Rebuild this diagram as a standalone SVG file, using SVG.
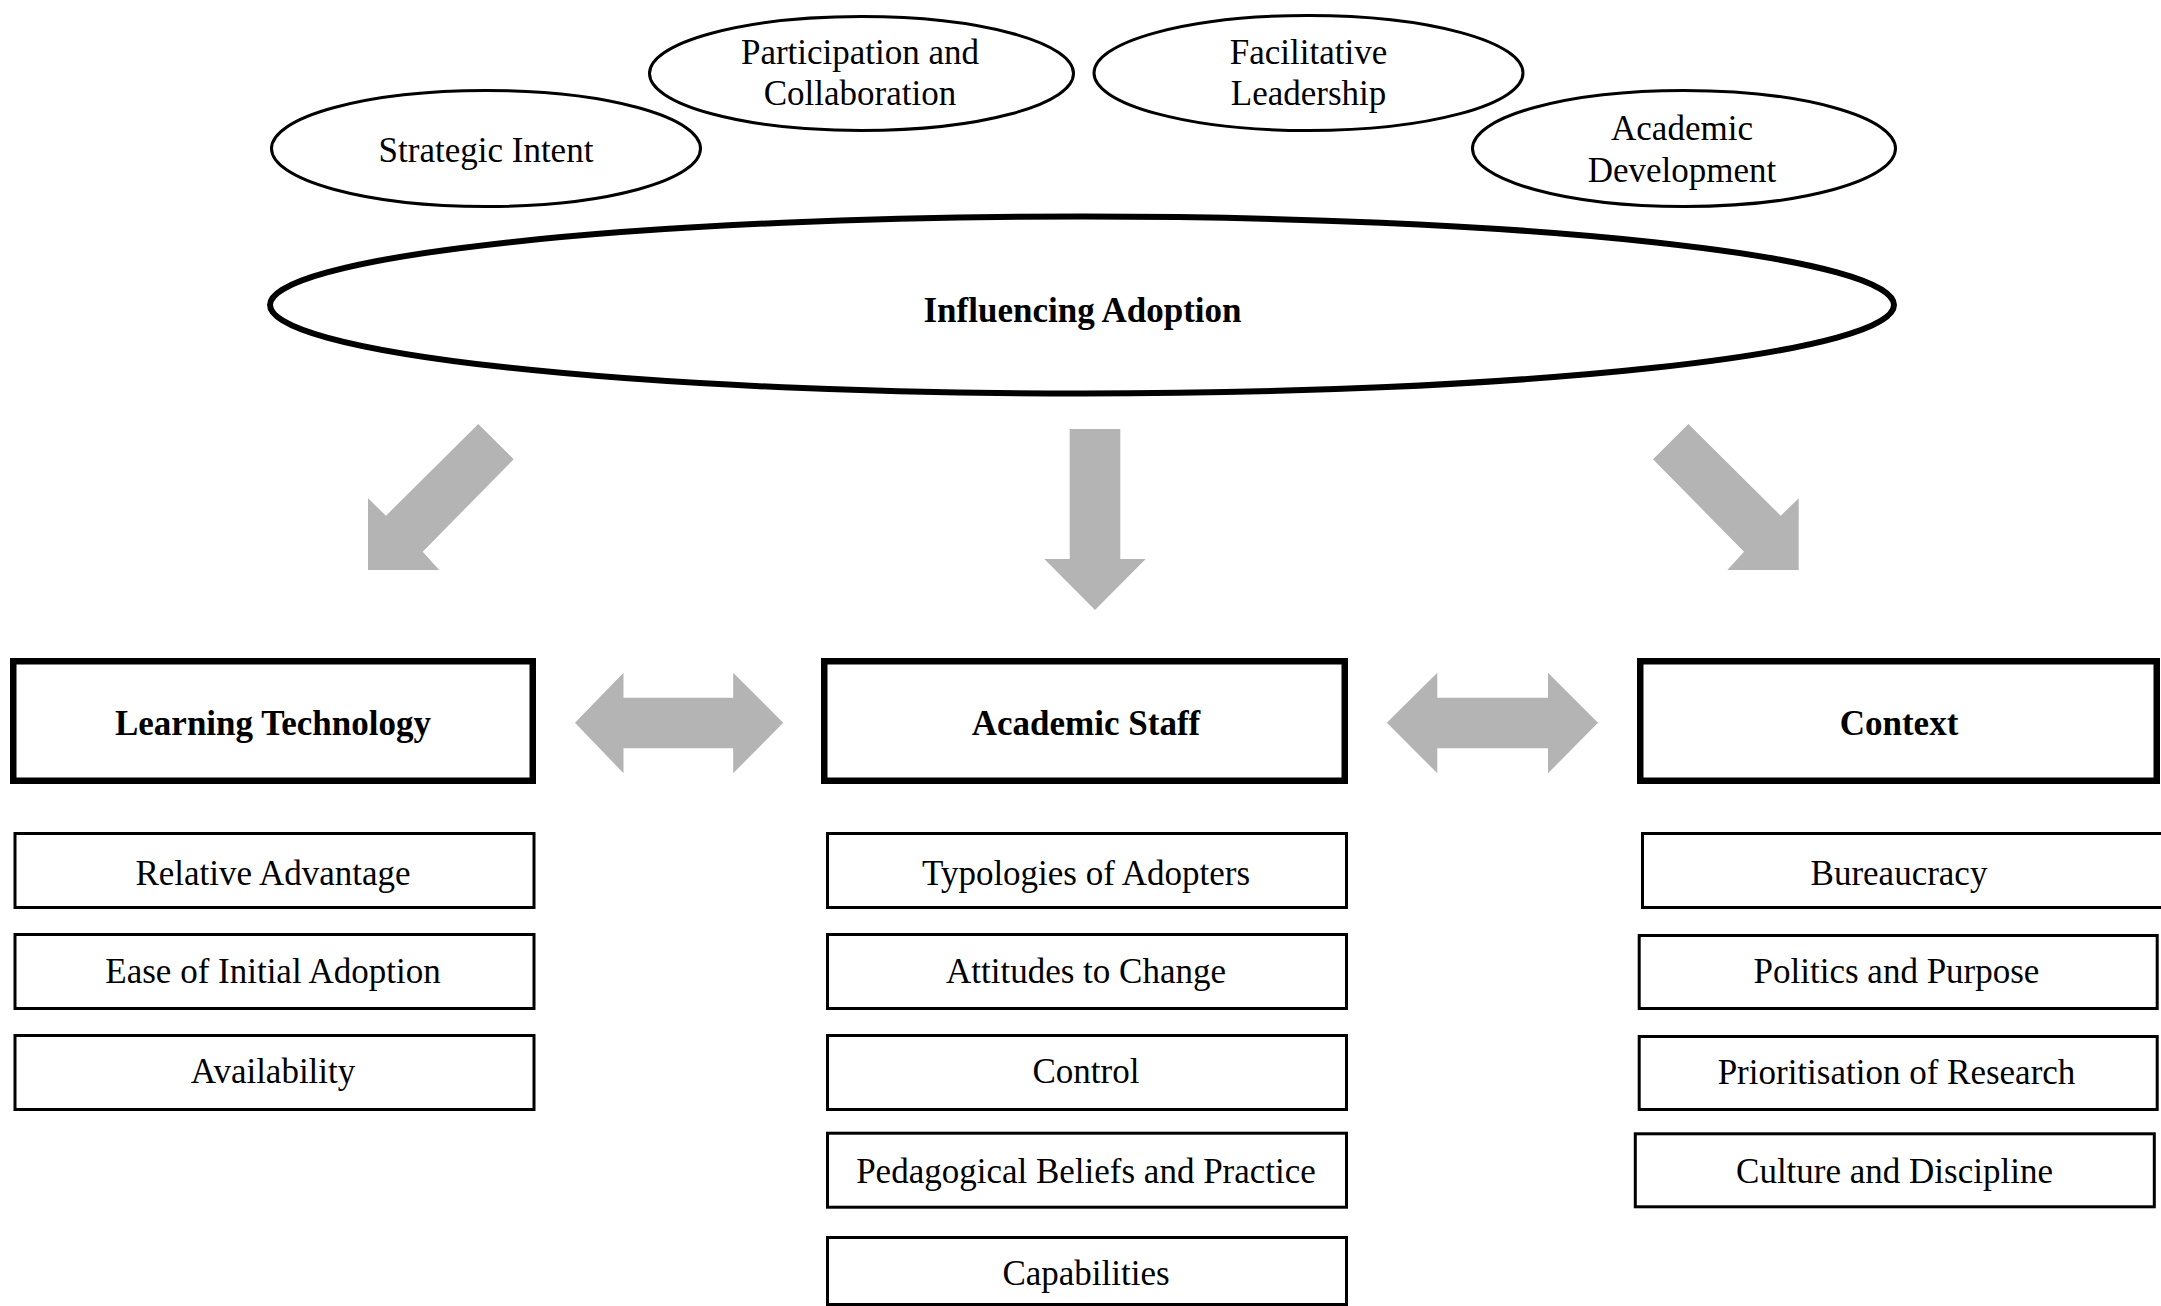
<svg xmlns="http://www.w3.org/2000/svg" width="2161" height="1306" viewBox="0 0 2161 1306">
<style>
.t{font-family:"Liberation Serif","Times New Roman",serif;font-size:35px;fill:#000;text-anchor:middle}
.b{font-weight:bold}
.oval{fill:#fff;stroke:#000;stroke-width:3}
.big{fill:#fff;stroke:#000;stroke-width:6}
.hdr{fill:#fff;stroke:#000;stroke-width:6.5}
.sub{fill:#fff;stroke:#000;stroke-width:3}
.arr{fill:#b4b4b4;stroke:none}
</style>
<rect width="2161" height="1306" fill="#fff"/>
<g id="strategic-intent"><ellipse class="oval" cx="486" cy="148.5" rx="214.5" ry="58"/><text class="t" x="486" y="162">Strategic Intent</text></g>
<g id="participation"><ellipse class="oval" cx="861.5" cy="73.5" rx="212" ry="57"/><text class="t" x="860" y="64">Participation and</text><text class="t" x="860" y="105">Collaboration</text></g>
<g id="facilitative"><ellipse class="oval" cx="1308.5" cy="73" rx="214.5" ry="57.5"/><text class="t" x="1308.5" y="64">Facilitative</text><text class="t" x="1308.5" y="105">Leadership</text></g>
<g id="academic-development"><ellipse class="oval" cx="1684" cy="148.5" rx="211.5" ry="58"/><text class="t" x="1682" y="140">Academic</text><text class="t" x="1682" y="182">Development</text></g>
<g id="influencing-adoption"><ellipse class="big" cx="1082" cy="305" rx="812" ry="88.5"/><text class="t b" x="1082.5" y="322">Influencing Adoption</text></g>
<g id="connectors">
<polygon class="arr" points="478.3,424 513.7,459.3 422.7,551.7 439.3,570 368,570 368,498.3 386,515.7"/>
<polygon class="arr" points="1069.7,429 1120.3,429 1120.3,559 1145.7,559 1095,610 1044.3,559 1069.7,559"/>
<polygon class="arr" points="1688.4,424 1653,459.3 1744,551.7 1727.4,570 1798.7,570 1798.7,498.3 1780.7,515.7"/>
<polygon class="arr" points="575,722.7 623.5,672.7 623.5,697.7 733.2,697.7 733.2,672.7 783.2,722.7 733.2,773.3 733.2,748.3 623.5,748.3 623.5,773.3"/>
<polygon class="arr" points="1386.8,722.7 1437.3,672.7 1437.3,697.7 1548,697.7 1548,672.7 1598,722.7 1548,773.3 1548,748.3 1437.3,748.3 1437.3,773.3"/>
</g>
<g id="learning-technology"><rect class="hdr" x="13.25" y="661.25" width="519.5" height="119.5"/><text class="t b" x="273" y="735">Learning Technology</text></g>
<g id="academic-staff"><rect class="hdr" x="824.25" y="661.25" width="520.5" height="119.5"/><text class="t b" x="1086" y="735">Academic Staff</text></g>
<g id="context"><rect class="hdr" x="1640.25" y="661.25" width="516.5" height="119.5"/><text class="t b" x="1899" y="735">Context</text></g>
<g id="relative-advantage"><rect class="sub" x="15" y="833.5" width="519" height="74"/><text class="t" x="273" y="885">Relative Advantage</text></g>
<g id="ease-of-initial-adoption"><rect class="sub" x="15" y="934.5" width="519" height="74"/><text class="t" x="273" y="983">Ease of Initial Adoption</text></g>
<g id="availability"><rect class="sub" x="15" y="1035.5" width="519" height="74"/><text class="t" x="273" y="1083">Availability</text></g>
<g id="typologies"><rect class="sub" x="827.5" y="833.5" width="519" height="74"/><text class="t" x="1086" y="885">Typologies of Adopters</text></g>
<g id="attitudes"><rect class="sub" x="827.5" y="934.5" width="519" height="74"/><text class="t" x="1086" y="983">Attitudes to Change</text></g>
<g id="control"><rect class="sub" x="827.5" y="1035.5" width="519" height="74"/><text class="t" x="1086" y="1083">Control</text></g>
<g id="pedagogical"><rect class="sub" x="827.5" y="1133.2" width="519" height="74"/><text class="t" x="1086" y="1183">Pedagogical Beliefs and Practice</text></g>
<g id="capabilities"><rect class="sub" x="827.5" y="1237.5" width="519" height="67"/><text class="t" x="1086" y="1285">Capabilities</text></g>
<g id="bureaucracy"><rect class="sub" x="1642.5" y="833.5" width="540" height="74"/><text class="t" x="1899" y="885">Bureaucracy</text></g>
<g id="politics"><rect class="sub" x="1639.2" y="935.5" width="518" height="73"/><text class="t" x="1896.5" y="983">Politics and Purpose</text></g>
<g id="prioritisation"><rect class="sub" x="1639.2" y="1036.5" width="518" height="73"/><text class="t" x="1896.5" y="1084">Prioritisation of Research</text></g>
<g id="culture"><rect class="sub" x="1635.3" y="1133.8" width="519" height="73"/><text class="t" x="1894.5" y="1183">Culture and Discipline</text></g>
</svg>
